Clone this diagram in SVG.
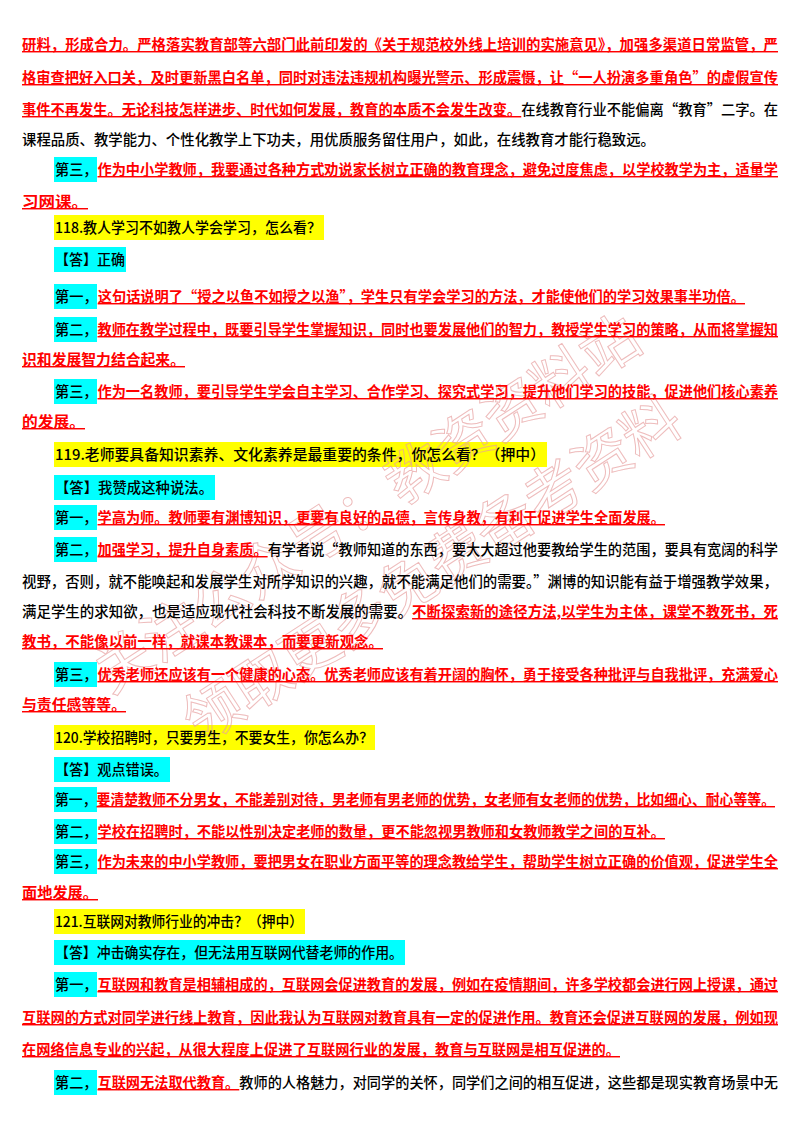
<svg xmlns="http://www.w3.org/2000/svg" width="800" height="1132" viewBox="0 0 800 1132">
<style>
text{font-family:"Noto Sans CJK SC","Noto Sans",sans-serif;font-size:14.5px;fill:#000;font-weight:500}
.r{fill:#ff0000;font-weight:700;text-decoration:underline}
.b{fill:#000}
.wm{font-size:58px;fill:none;stroke:#e8a0a0;stroke-width:1;opacity:0.7;font-weight:400}
.c{fill:#00ffff}
.y{fill:#ffff00}
</style>
<rect width="800" height="1132" fill="#fff"/>
<g id="highlights">
<rect class="c" x="54" y="157" width="43" height="25"/>
<rect class="y" x="54" y="215" width="270" height="25"/>
<rect class="c" x="54" y="247" width="72" height="25"/>
<rect class="c" x="54" y="284" width="43" height="25"/>
<rect class="c" x="54" y="317" width="43" height="25"/>
<rect class="c" x="54" y="379" width="43" height="25"/>
<rect class="y" x="54" y="442" width="493" height="25"/>
<rect class="c" x="54" y="475" width="161" height="25"/>
<rect class="c" x="54" y="505" width="43" height="25"/>
<rect class="c" x="54" y="537" width="43" height="25"/>
<rect class="c" x="54" y="662" width="43" height="25"/>
<rect class="y" x="54" y="725" width="321" height="25"/>
<rect class="c" x="54" y="757" width="116" height="25"/>
<rect class="c" x="54" y="787" width="43" height="25"/>
<rect class="c" x="54" y="819" width="43" height="25"/>
<rect class="c" x="54" y="849" width="43" height="25"/>
<rect class="y" x="54" y="909" width="251" height="25"/>
<rect class="c" x="54" y="940" width="351" height="25"/>
<rect class="c" x="54" y="972" width="43" height="25"/>
<rect class="c" x="54" y="1070" width="43" height="25"/>
</g>
<g id="watermark">
<text class="wm" transform="translate(110,695) rotate(-33)">关注公众号：教资资料站</text>
<text class="wm" transform="translate(200,745) rotate(-33)">领取更多免费备考资料</text>
</g>
<g id="body">
<text x="22" y="50" textLength="756" lengthAdjust="spacingAndGlyphs"><tspan class="r">研料，形成合力。严格落实教育部等六部门此前印发的《关于规范校外线上培训的实施意见》，加强多渠道日常监管，严</tspan></text>
<text x="22" y="83" textLength="756" lengthAdjust="spacingAndGlyphs"><tspan class="r">格审查把好入口关，及时更新黑白名单，同时对违法违规机构曝光警示、形成震慑，让“一人扮演多重角色”的虚假宣传</tspan></text>
<text x="22" y="115" textLength="756" lengthAdjust="spacingAndGlyphs"><tspan class="r">事件不再发生。无论科技怎样进步、时代如何发展，教育的本质不会发生改变。</tspan><tspan>在线教育行业不能偏离“教育”二字。在</tspan></text>
<text x="22" y="145" textLength="633" lengthAdjust="spacingAndGlyphs">课程品质、教学能力、个性化教学上下功夫，用优质服务留住用户，如此，在线教育才能行稳致远。</text>
<text x="55" y="175" textLength="723" lengthAdjust="spacingAndGlyphs"><tspan>第三，</tspan><tspan class="r">作为中小学教师，我要通过各种方式劝说家长树立正确的教育理念，避免过度焦虑，以学校教学为主，适量学</tspan></text>
<text x="22" y="207" textLength="66" lengthAdjust="spacingAndGlyphs"><tspan class="r">习网课。</tspan></text>
<text x="55" y="233" textLength="266" lengthAdjust="spacingAndGlyphs">118.教人学习不如教人学会学习，怎么看？</text>
<text x="55" y="265" textLength="70" lengthAdjust="spacingAndGlyphs">【答】正确</text>
<text x="55" y="302" textLength="690" lengthAdjust="spacingAndGlyphs"><tspan>第一，</tspan><tspan class="r">这句话说明了“授之以鱼不如授之以渔”，学生只有学会学习的方法，才能使他们的学习效果事半功倍。</tspan></text>
<text x="55" y="335" textLength="723" lengthAdjust="spacingAndGlyphs"><tspan>第二，</tspan><tspan class="r">教师在教学过程中，既要引导学生掌握知识，同时也要发展他们的智力，教授学生学习的策略，从而将掌握知</tspan></text>
<text x="22" y="365" textLength="163" lengthAdjust="spacingAndGlyphs"><tspan class="r">识和发展智力结合起来。</tspan></text>
<text x="55" y="397" textLength="723" lengthAdjust="spacingAndGlyphs"><tspan>第三，</tspan><tspan class="r">作为一名教师，要引导学生学会自主学习、合作学习、探究式学习，提升他们学习的技能，促进他们核心素养</tspan></text>
<text x="22" y="427" textLength="63" lengthAdjust="spacingAndGlyphs"><tspan class="r">的发展。</tspan></text>
<text x="55" y="460" textLength="490" lengthAdjust="spacingAndGlyphs">119.老师要具备知识素养、文化素养是最重要的条件，你怎么看？（押中）</text>
<text x="55" y="493" textLength="158" lengthAdjust="spacingAndGlyphs">【答】我赞成这种说法。</text>
<text x="55" y="523" textLength="610" lengthAdjust="spacingAndGlyphs"><tspan>第一，</tspan><tspan class="r">学高为师。教师要有渊博知识，更要有良好的品德，言传身教，有利于促进学生全面发展。</tspan></text>
<text x="55" y="555" textLength="723" lengthAdjust="spacingAndGlyphs"><tspan>第二，</tspan><tspan class="r">加强学习，提升自身素质。</tspan><tspan>有学者说“教师知道的东西，要大大超过他要教给学生的范围，要具有宽阔的科学</tspan></text>
<text x="22" y="587" textLength="756" lengthAdjust="spacingAndGlyphs">视野，否则，就不能唤起和发展学生对所学知识的兴趣，就不能满足他们的需要。”渊博的知识能有益于增强教学效果，</text>
<text x="22" y="617" textLength="756" lengthAdjust="spacingAndGlyphs"><tspan>满足学生的求知欲，也是适应现代社会科技不断发展的需要。</tspan><tspan class="r">不断探索新的途径方法,以学生为主体，课堂不教死书，死</tspan></text>
<text x="22" y="647" textLength="361" lengthAdjust="spacingAndGlyphs"><tspan class="r">教书，不能像以前一样，就课本教课本，而要更新观念。</tspan></text>
<text x="55" y="680" textLength="723" lengthAdjust="spacingAndGlyphs"><tspan>第三，</tspan><tspan class="r">优秀老师还应该有一个健康的心态。优秀老师应该有着开阔的胸怀，勇于接受各种批评与自我批评，充满爱心</tspan></text>
<text x="22" y="710" textLength="104" lengthAdjust="spacingAndGlyphs"><tspan class="r">与责任感等等。</tspan></text>
<text x="55" y="743" textLength="318" lengthAdjust="spacingAndGlyphs">120.学校招聘时，只要男生，不要女生，你怎么办？</text>
<text x="55" y="775" textLength="113" lengthAdjust="spacingAndGlyphs">【答】观点错误。</text>
<text x="55" y="805" textLength="720" lengthAdjust="spacingAndGlyphs"><tspan>第一，</tspan><tspan class="r">要清楚教师不分男女，不能差别对待，男老师有男老师的优势，女老师有女老师的优势，比如细心、耐心等等。</tspan></text>
<text x="55" y="837" textLength="610" lengthAdjust="spacingAndGlyphs"><tspan>第二，</tspan><tspan class="r">学校在招聘时，不能以性别决定老师的数量，更不能忽视男教师和女教师教学之间的互补。</tspan></text>
<text x="55" y="867" textLength="723" lengthAdjust="spacingAndGlyphs"><tspan>第三，</tspan><tspan class="r">作为未来的中小学教师，要把男女在职业方面平等的理念教给学生，帮助学生树立正确的价值观，促进学生全</tspan></text>
<text x="22" y="898" textLength="76" lengthAdjust="spacingAndGlyphs"><tspan class="r">面地发展。</tspan></text>
<text x="55" y="927" textLength="248" lengthAdjust="spacingAndGlyphs">121.互联网对教师行业的冲击？（押中）</text>
<text x="55" y="958" textLength="348" lengthAdjust="spacingAndGlyphs">【答】冲击确实存在，但无法用互联网代替老师的作用。</text>
<text x="55" y="990" textLength="723" lengthAdjust="spacingAndGlyphs"><tspan>第一，</tspan><tspan class="r">互联网和教育是相辅相成的，互联网会促进教育的发展，例如在疫情期间，许多学校都会进行网上授课，通过</tspan></text>
<text x="22" y="1023" textLength="756" lengthAdjust="spacingAndGlyphs"><tspan class="r">互联网的方式对同学进行线上教育，因此我认为互联网对教育具有一定的促进作用。教育还会促进互联网的发展，例如现</tspan></text>
<text x="22" y="1055" textLength="598" lengthAdjust="spacingAndGlyphs"><tspan class="r">在网络信息专业的兴起，从很大程度上促进了互联网行业的发展，教育与互联网是相互促进的。</tspan></text>
<text x="55" y="1088" textLength="723" lengthAdjust="spacingAndGlyphs"><tspan>第二，</tspan><tspan class="r">互联网无法取代教育。</tspan><tspan>教师的人格魅力，对同学的关怀，同学们之间的相互促进，这些都是现实教育场景中无</tspan></text>
</g>
</svg>
